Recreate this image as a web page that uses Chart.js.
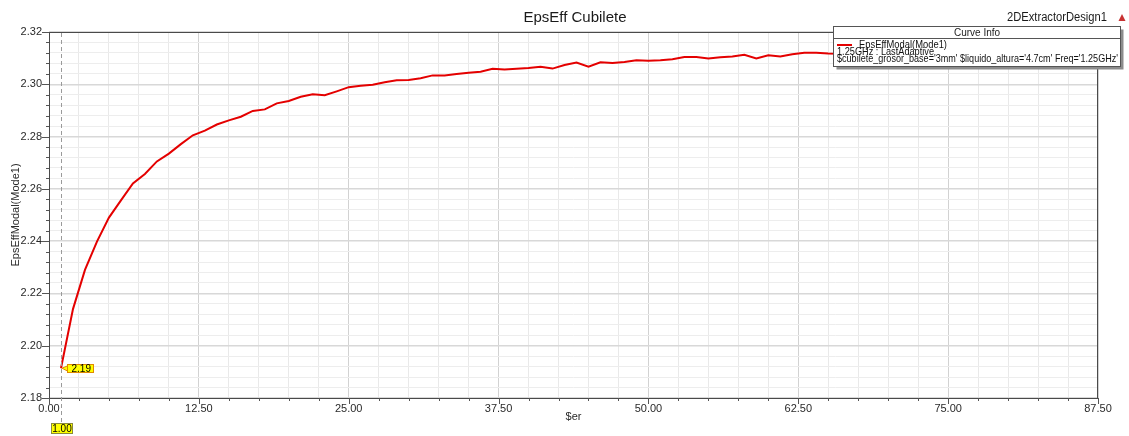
<!DOCTYPE html>
<html>
<head>
<meta charset="utf-8">
<script src="https://cdn.jsdelivr.net/npm/chart.js@4"></script>
<style>
  html, body { margin: 0; padding: 0; background: #fff; }
  #wrap { width: 1129px; height: 436px; }
</style>
</head>
<body>
<div id="wrap"><canvas id="chart" width="1129" height="436"></canvas></div>
<script>
// EpsEff vs $er sweep

const erValues = [
  1, 2, 3, 4, 5, 6, 7, 8, 9, 10,
  11, 12, 13, 14, 15, 16, 17, 18, 19, 20,
  21, 22, 23, 24, 25, 26, 27, 28, 29, 30,
  31, 32, 33, 34, 35, 36, 37, 38, 39, 40,
  41, 42, 43, 44, 45, 46, 47, 48, 49, 50,
  51, 52, 53, 54, 55, 56, 57, 58, 59, 60,
  61, 62, 63, 64, 65, 66
];
const epsEffValues = [
  2.1914, 2.2140, 2.2290, 2.2398, 2.2490, 2.2556, 2.2621, 2.2657, 2.2705, 2.2735,
  2.2771, 2.2805, 2.2823, 2.2846, 2.2862, 2.2876, 2.2898, 2.2904, 2.2927, 2.2936,
  2.2952, 2.2962, 2.2958, 2.2973, 2.2989, 2.2994, 2.2998, 2.3008, 2.3015, 2.3016,
  2.3023, 2.3034, 2.3034, 2.3039, 2.3044, 2.3048, 2.3059, 2.3057, 2.3059, 2.3062,
  2.3067, 2.3060, 2.3074, 2.3083, 2.3067, 2.3084, 2.3081, 2.3085, 2.3092, 2.3090,
  2.3092, 2.3096, 2.3104, 2.3104, 2.3099, 2.3103, 2.3106, 2.3113, 2.3099, 2.3111,
  2.3106, 2.3115, 2.3121, 2.3121, 2.3118, 2.3117
];

const xTickLabels = ['0.00', '12.50', '25.00', '37.50', '50.00', '62.50', '75.00', '87.50'];
const yTickLabels = ['2.18', '2.20', '2.22', '2.24', '2.26', '2.28', '2.30', '2.32'];
const MINOR_PER_MAJOR = 5;

const markerX = 1.00;          // vertical marker
const markerPointLabel = '2.19';

const FONT = "'Liberation Sans', Arial, sans-serif";

// minor + major ticks between consecutive labelled values
function buildTicks(labels) {
  const ticks = [];
  for (let i = 0; i < labels.length - 1; i++) {
    const a = parseFloat(labels[i]), b = parseFloat(labels[i + 1]);
    for (let k = 0; k < MINOR_PER_MAJOR; k++) ticks.push({ value: a + (b - a) * k / MINOR_PER_MAJOR });
  }
  ticks.push({ value: parseFloat(labels[labels.length - 1]) });
  return ticks;
}

const isMajor = (i) => i % MINOR_PER_MAJOR === 0;

const decorations = {
  id: 'decorations',
  afterDraw(chart) {
    const { ctx, chartArea: ca, scales: { x, y } } = chart;
    ctx.save();

    // frame
    ctx.strokeStyle = '#4a4a4a';
    ctx.lineWidth = 1;
    ctx.strokeRect(ca.left + 0.5, ca.top + 0.5, ca.right - ca.left - 1, ca.bottom - ca.top);

    // tick marks, long for major, short for minor
    ctx.strokeStyle = '#555';
    ctx.beginPath();
    x.ticks.forEach((t, i) => {
      const px = Math.round(x.getPixelForValue(t.value)) + 0.5;
      ctx.moveTo(px, ca.bottom);
      ctx.lineTo(px, ca.bottom + (isMajor(i) ? 6 : 3));
    });
    y.ticks.forEach((t, i) => {
      const py = Math.round(y.getPixelForValue(t.value)) + 0.5;
      ctx.moveTo(ca.left, py);
      ctx.lineTo(ca.left - (isMajor(i) ? 7 : 3), py);
    });
    ctx.stroke();

    // dashed marker line at $er = 1
    const mx = Math.round(x.getPixelForValue(markerX)) + 0.5;
    ctx.strokeStyle = '#9a9a9a';
    ctx.setLineDash([4, 3]);
    ctx.beginPath();
    ctx.moveTo(mx, ca.top + 1);
    ctx.lineTo(mx, 423);
    ctx.stroke();
    ctx.setLineDash([]);

    // marker value box under the axis
    ctx.fillStyle = '#ffff00';
    ctx.fillRect(mx - 10, 423.5, 21, 10);
    ctx.strokeStyle = '#8a8a3a';
    ctx.strokeRect(mx - 10, 423.5, 21, 10);
    ctx.fillStyle = '#000';
    ctx.font = '10px ' + FONT;
    ctx.textAlign = 'center';
    ctx.textBaseline = 'middle';
    ctx.fillText(markerX.toFixed(2), mx + 0.5, 429);

    // point label on the curve
    const ppx = x.getPixelForValue(erValues[0]);
    const ppy = y.getPixelForValue(epsEffValues[0]);
    const bx = ppx + 6.5, by = Math.round(ppy) - 3.5;
    ctx.fillStyle = '#ffff00';
    ctx.strokeStyle = '#e08a00';
    ctx.beginPath();
    ctx.moveTo(ppx + 1, ppy);
    ctx.lineTo(bx + 1, by + 1);
    ctx.lineTo(bx + 1, by + 7);
    ctx.closePath();
    ctx.fill();
    ctx.stroke();
    ctx.fillRect(bx, by, 26, 8);
    ctx.strokeRect(bx, by, 26, 8);
    ctx.fillStyle = '#000';
    ctx.textAlign = 'left';
    ctx.fillText(markerPointLabel, bx + 4, by + 4.5);

    // titles
    ctx.fillStyle = '#1a1a1a';
    ctx.font = '15px ' + FONT;
    ctx.textAlign = 'center';
    ctx.fillText('EpsEff Cubilete', 575, 18);
    ctx.font = '12px ' + FONT;
    ctx.textAlign = 'right';
    ctx.fillText('2DExtractorDesign1', 1107, 18, 100);
    ctx.fillStyle = '#c83232';
    ctx.beginPath();
    ctx.moveTo(1122, 14);
    ctx.lineTo(1125.5, 21);
    ctx.lineTo(1118.5, 21);
    ctx.closePath();
    ctx.fill();

    // Curve Info box
    const L = 833.5, T = 26.5, W = 287, H = 40;
    ctx.fillStyle = '#8c8c8c';
    ctx.fillRect(L + 3, T + 3, W, H);
    ctx.fillStyle = '#fff';
    ctx.fillRect(L, T, W, H);
    ctx.strokeStyle = '#555';
    ctx.strokeRect(L, T, W, H);
    ctx.beginPath();
    ctx.moveTo(L, T + 12);
    ctx.lineTo(L + W, T + 12);
    ctx.stroke();
    ctx.fillStyle = '#222';
    ctx.font = '10px ' + FONT;
    ctx.textAlign = 'center';
    ctx.fillText('Curve Info', L + W / 2, T + 7);
    ctx.strokeStyle = 'rgb(228, 0, 0)';
    ctx.lineWidth = 2;
    ctx.beginPath();
    ctx.moveTo(837, 45);
    ctx.lineTo(852, 45);
    ctx.stroke();
    ctx.textAlign = 'left';
    ctx.fillStyle = '#111';
    ctx.font = '10.5px ' + FONT;
    ctx.fillText('EpsEffModal(Mode1)', 859, 45, 88);
    ctx.fillText('1.25GHz : LastAdaptive', 837, 52, 97);
    ctx.fillText("$cubilete_grosor_base='3mm' $liquido_altura='4.7cm' Freq='1.25GHz'", 837, 59.5, 281);

    ctx.restore();
  }
};

new Chart(document.getElementById('chart'), {
  type: 'line',
  data: {
    datasets: [{
      label: 'EpsEffModal(Mode1)',
      data: erValues.map((v, i) => ({ x: v, y: epsEffValues[i] })),
      borderColor: 'rgb(228, 0, 0)',
      borderWidth: 2,
      pointRadius: 0,
      tension: 0,
      fill: false
    }]
  },
  options: {
    responsive: false,
    animation: false,
    devicePixelRatio: 1,
    layout: { padding: { top: 32, right: 31, left: 0, bottom: 0 } },
    plugins: {
      legend: { display: false },
      tooltip: { enabled: false }
    },
    scales: {
      x: {
        type: 'linear',
        min: parseFloat(xTickLabels[0]),
        max: parseFloat(xTickLabels[xTickLabels.length - 1]),
        afterBuildTicks: (s) => { s.ticks = buildTicks(xTickLabels); },
        afterFit: (s) => { s.height = 38; },
        ticks: {
          autoSkip: false,
          maxRotation: 0,
          padding: 4,
          color: '#2a2a2a',
          font: { family: FONT, size: 11 },
          callback: (v, i) => isMajor(i) ? xTickLabels[i / MINOR_PER_MAJOR] : ''
        },
        grid: {
          drawTicks: false,
          color: (c) => isMajor(c.index) ? '#d2d2d2' : '#e9e9e9'
        },
        border: { display: false },
        title: {
          display: true,
          text: '$er',
          color: '#2a2a2a',
          font: { family: FONT, size: 11, lineHeight: 1.2 },
          padding: { top: 0, bottom: 12.4 }
        }
      },
      y: {
        min: parseFloat(yTickLabels[0]),
        max: parseFloat(yTickLabels[yTickLabels.length - 1]),
        afterBuildTicks: (s) => { s.ticks = buildTicks(yTickLabels); },
        afterFit: (s) => { s.width = 49; },
        ticks: {
          autoSkip: false,
          padding: 7,
          color: '#2a2a2a',
          font: { family: FONT, size: 11 },
          callback: (v, i) => isMajor(i) ? yTickLabels[i / MINOR_PER_MAJOR] : ''
        },
        grid: {
          drawTicks: false,
          color: (c) => isMajor(c.index) ? '#d8d8d8' : '#ededed',
          lineWidth: (c) => isMajor(c.index) ? 1.5 : 1
        },
        border: { display: false },
        title: {
          display: true,
          text: 'EpsEffModal(Mode1)',
          color: '#2a2a2a',
          font: { family: FONT, size: 11, lineHeight: 1.2 },
          padding: { top: 9.4, bottom: 0 }
        }
      }
    }
  },
  plugins: [decorations]
});
</script>
</body>
</html>
